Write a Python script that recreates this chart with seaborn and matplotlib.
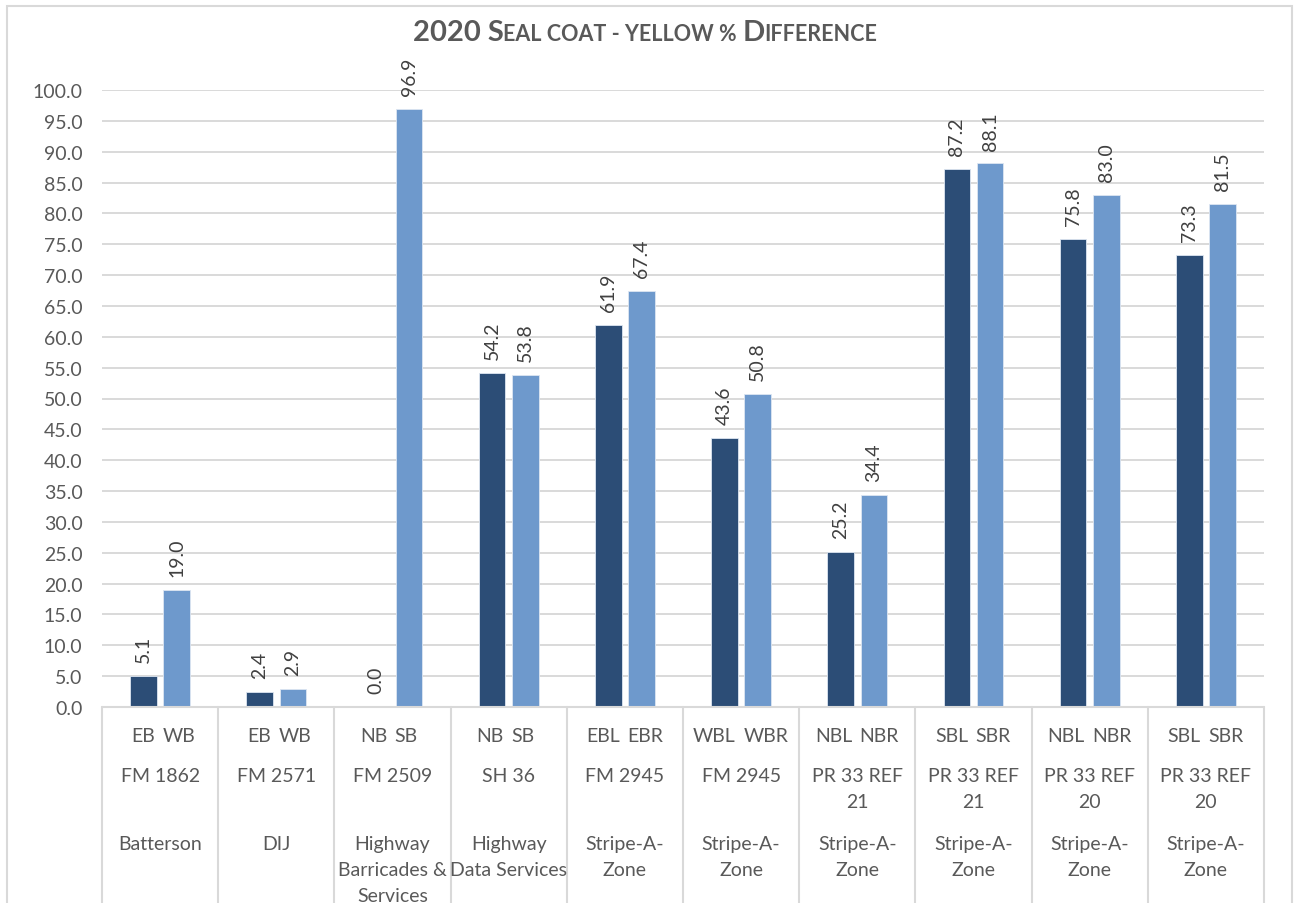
import matplotlib
matplotlib.use("Agg")
import matplotlib.pyplot as plt
import matplotlib.transforms as mtransforms
from matplotlib.patches import Rectangle
import pandas as pd
import seaborn as sns

# ---- data -------------------------------------------------------------
contractors = ["Batterson", "DIJ", "Highway\nBarricades &\nServices",
               "Highway\nData Services", "Stripe-A-\nZone", "Stripe-A-\nZone",
               "Stripe-A-\nZone", "Stripe-A-\nZone", "Stripe-A-\nZone",
               "Stripe-A-\nZone"]
roads = ["FM 1862", "FM 2571", "FM 2509", "SH 36", "FM 2945", "FM 2945",
         "PR 33 REF\n21", "PR 33 REF\n21", "PR 33 REF\n20", "PR 33 REF\n20"]
dir_first = ["EB", "EB", "NB", "NB", "EBL", "WBL", "NBL", "SBL", "NBL", "SBL"]
dir_second = ["WB", "WB", "SB", "SB", "EBR", "WBR", "NBR", "SBR", "NBR", "SBR"]
first_vals = [5.1, 2.4, 0.0, 54.2, 61.9, 43.6, 25.2, 87.2, 75.8, 73.3]
second_vals = [19.0, 2.9, 96.9, 53.8, 67.4, 50.8, 34.4, 88.1, 83.0, 81.5]
y_ticks = [i * 5.0 for i in range(21)]

title_parts = [("2020 S", "big"), ("EAL COAT - YELLOW % ", "small"),
               ("D", "big"), ("IFFERENCE", "small")]

# ---- styling ----------------------------------------------------------
DARK = "#2C4D76"
LIGHT = "#6E99CC"
GRID = "#D9D9D9"
TICK_TXT = "#595959"
LABEL_TXT = "#404040"
FS = 14

sns.set_style("white")
plt.rcParams["font.family"] = ["Lato", "DejaVu Sans"]

site_keys = [f"{r} / {c} / {a}-{b}" for r, c, a, b in
             zip(roads, contractors, dir_first, dir_second)]
df = pd.DataFrame({
    "site": site_keys * 2,
    "lane": ["first"] * len(site_keys) + ["second"] * len(site_keys),
    "pct": first_vals + second_vals,
})

W, H = 1294, 904
fig = plt.figure(figsize=(W / 100, H / 100), dpi=100)
ax = fig.add_axes([102 / W, 1 - 708 / H, (1264 - 102) / W, (708 - 91) / H])

sns.barplot(data=df, x="site", y="pct", hue="lane", order=site_keys,
            hue_order=["first", "second"], palette=[DARK, LIGHT],
            saturation=1, width=0.57, gap=0.2, legend=False, ax=ax,
            errorbar=None, edgecolor="#DDE6F2", linewidth=0.6)

ax.set_ylim(0, 100)
ax.set_xlim(-0.5, len(site_keys) - 0.5)
ax.set_yticks(y_ticks)
ax.set_yticklabels([f"{v:.1f}" for v in y_ticks])
ax.tick_params(axis="y", length=0, pad=14, labelsize=FS, labelcolor=TICK_TXT)
ax.set_xticks([])
ax.set_xlabel("")
ax.set_ylabel("")
ax.yaxis.grid(True, color=GRID, linewidth=1.4)
ax.set_axisbelow(True)
for s in ax.spines.values():
    s.set_visible(False)

# value labels on each bar
for cont, vals in zip(ax.containers, [first_vals, second_vals]):
    ax.bar_label(cont, labels=[f"{v:.1f}" for v in vals], rotation=90,
                 padding=10, fontsize=FS, color=LABEL_TXT)

# ---- multi-level category table under the axis ------------------------
px = 1.0 / (708 - 91)  # one pixel in axes-fraction units
trans = mtransforms.blended_transform_factory(ax.transData, ax.transAxes)
table_bottom = -(H - 708 + 10) * px
ax.plot([-0.5, len(site_keys) - 0.5], [0, 0], transform=trans, color=GRID,
        lw=1.5, clip_on=False)
for i in range(len(site_keys) + 1):
    xb = i - 0.5
    ax.plot([xb, xb], [0, table_bottom], transform=trans, color=GRID,
            lw=1.5, clip_on=False)

for i in range(len(site_keys)):
    ax.text(i - 0.045, -29 * px, dir_first[i], transform=trans, ha="right",
            va="center", fontsize=FS, color=TICK_TXT, clip_on=False)
    ax.text(i + 0.02, -29 * px, dir_second[i], transform=trans, ha="left",
            va="center", fontsize=FS, color=TICK_TXT, clip_on=False)
    ax.text(i, -60 * px, roads[i], transform=trans, ha="center", va="top",
            fontsize=FS, color=TICK_TXT, linespacing=1.65, clip_on=False)
    ax.text(i, -128 * px, contractors[i], transform=trans, ha="center",
            va="top", fontsize=FS, color=TICK_TXT, linespacing=1.65,
            clip_on=False)

# ---- outer chart border ----------------------------------------------
fig.patches.append(Rectangle((7 / W, -0.02), (1292 - 7) / W, 1 - 7 / H + 0.02,
                             transform=fig.transFigure, fill=False,
                             edgecolor=GRID, lw=1.5))

# ---- small-caps style title ------------------------------------------
sizes = {"big": 21, "small": 15.5}
fig.canvas.draw()
renderer = fig.canvas.get_renderer()
pieces = []
for txt, kind in title_parts:
    t = fig.text(0, 1 - 41 / H, txt, fontsize=sizes[kind], fontweight="bold",
                 color=TICK_TXT, ha="left", va="baseline")
    pieces.append(t)
widths = [p.get_window_extent(renderer).width for p in pieces]
x = 645 - sum(widths) / 2
for p, w in zip(pieces, widths):
    p.set_x(x / W)
    x += w

fig.savefig("out.png", dpi=100)
